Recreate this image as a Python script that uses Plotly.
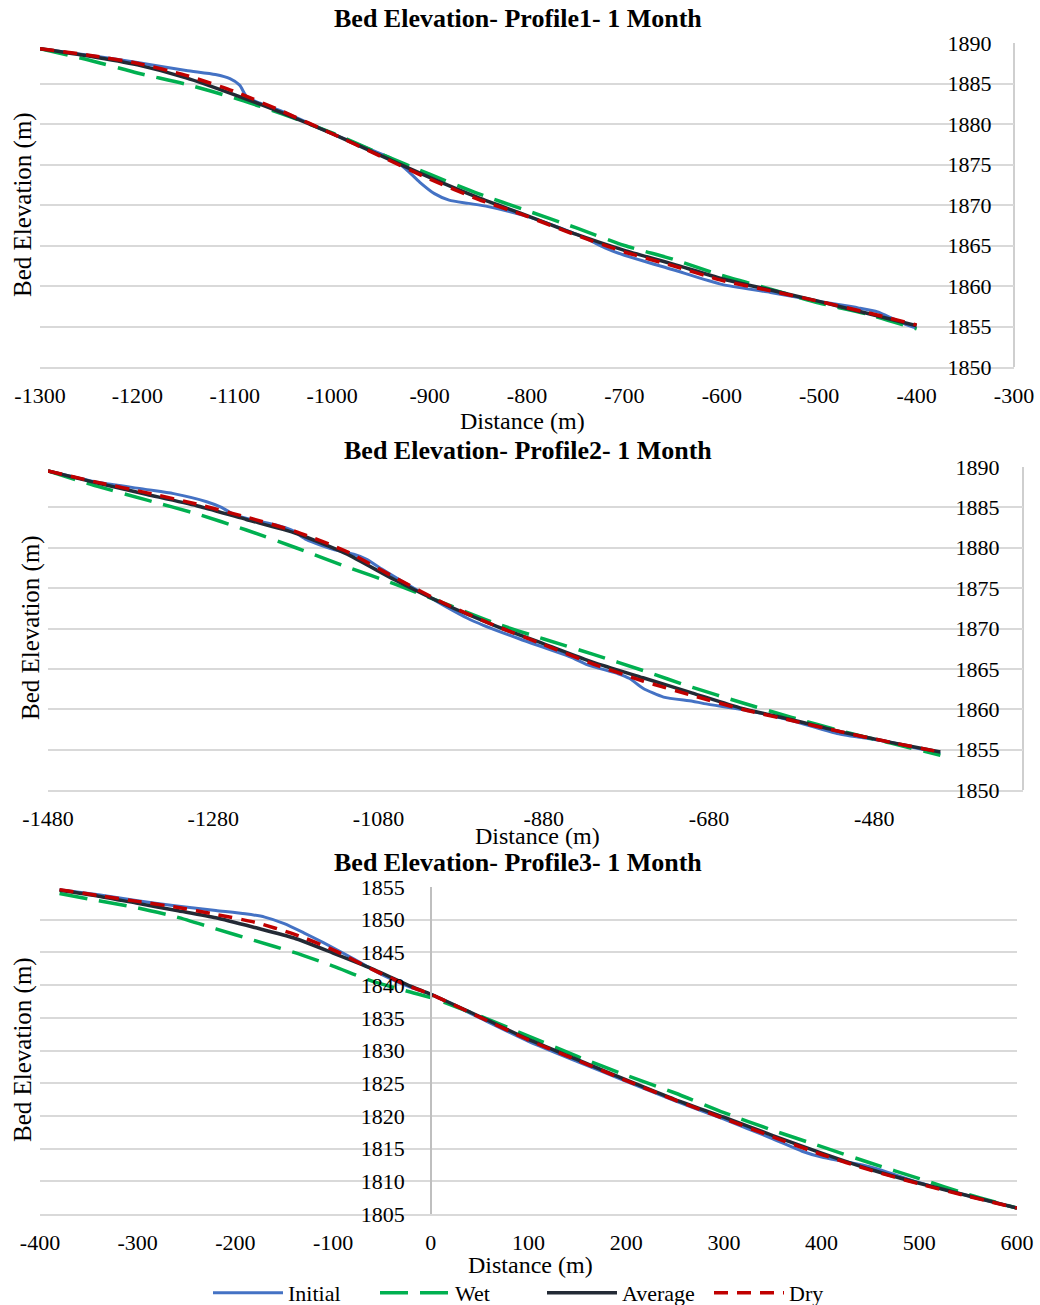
import plotly.graph_objects as go

# ---------------- DATA ----------------
series_names = ["Initial", "Wet", "Average", "Dry"]
titles = ["Bed Elevation- Profile1- 1 Month",
          "Bed Elevation- Profile2- 1 Month",
          "Bed Elevation- Profile3- 1 Month"]
x_title = "Distance (m)"
y_title = "Bed Elevation (m)"

# Profile 1
p1_x = [-1300, -1250, -1200, -1150, -1100, -1050, -1000, -950, -900, -850,
        -800, -750, -700, -650, -600, -550, -500, -450, -400]
p1_initial_x = [-1300, -1250, -1200, -1150, -1120, -1105, -1095, -1088, -1075, -1050,
                -1000, -960, -940, -925, -910, -895, -880, -860, -840, -800,
                -760, -740, -720, -700, -650, -600, -550, -500, -460, -440,
                -425, -410, -400]
p1_initial = [1889.3, 1888.5, 1887.6, 1886.6, 1886.1, 1885.6, 1884.8, 1883.4, 1882.6, 1881.5,
              1878.8, 1876.8, 1875.8, 1874.5, 1872.8, 1871.4, 1870.6, 1870.2, 1869.8, 1868.6,
              1866.9, 1865.9, 1864.7, 1863.8, 1862.0, 1860.2, 1859.2, 1858.1, 1857.3, 1856.8,
              1856.0, 1855.2, 1854.8]
p1_wet = [1889.3, 1887.9, 1886.3, 1884.9, 1883.2, 1881.2, 1878.9, 1876.3, 1873.8, 1871.4,
          1869.3, 1867.2, 1865.0, 1863.3, 1861.3, 1859.6, 1857.9, 1856.5, 1854.7]
p1_average = [1889.3, 1888.4, 1887.3, 1885.7, 1883.6, 1881.3, 1878.8, 1876.1, 1873.4, 1870.9,
              1868.7, 1866.4, 1864.4, 1862.7, 1860.9, 1859.5, 1858.1, 1856.6, 1855.1]
p1_dry = [1889.3, 1888.5, 1887.5, 1886.0, 1884.0, 1881.5, 1878.8, 1876.0, 1873.2, 1870.7,
          1868.6, 1866.3, 1864.2, 1862.5, 1860.7, 1859.4, 1858.1, 1856.7, 1855.2]

# Profile 2
p2_x = [-1480, -1420, -1360, -1300, -1240, -1180, -1120, -1060, -1000, -940,
        -880, -820, -760, -700, -640, -580, -520, -460, -400]
p2_initial_x = [-1480, -1420, -1360, -1328, -1288, -1270, -1253, -1230, -1203, -1185,
                -1167, -1135, -1110, -1095, -1075, -1054, -1034, -1000, -973, -953,
                -909, -848, -827, -790, -776, -760, -735, -700, -686, -626,
                -580, -525, -465, -400]
p2_initial = [1889.5, 1888.1, 1887.2, 1886.7, 1885.7, 1885.0, 1884.0, 1883.4, 1882.8, 1882.2,
              1881.0, 1879.8, 1879.2, 1878.6, 1877.3, 1876.0, 1874.8, 1872.8, 1871.3, 1870.4,
              1868.7, 1866.5, 1865.5, 1864.4, 1863.8, 1862.6, 1861.5, 1861.0, 1860.7, 1859.7,
              1858.6, 1857.0, 1856.0, 1854.5]
p2_wet = [1889.5, 1887.6, 1885.9, 1884.2, 1882.2, 1880.0, 1877.7, 1875.5, 1873.1, 1870.7,
          1868.7, 1866.8, 1864.8, 1862.7, 1860.8, 1859.0, 1857.3, 1855.8, 1854.3]
p2_average = [1889.5, 1888.0, 1886.6, 1885.2, 1883.5, 1881.8, 1879.3, 1876.0, 1873.0, 1870.4,
              1868.1, 1865.8, 1863.9, 1862.0, 1860.1, 1858.7, 1857.2, 1855.9, 1854.7]
p2_dry = [1889.5, 1888.1, 1886.8, 1885.4, 1883.8, 1882.0, 1879.6, 1876.3, 1873.1, 1870.4,
          1868.0, 1865.6, 1863.5, 1861.7, 1860.0, 1858.6, 1857.2, 1855.9, 1854.7]

# Profile 3
p3_x = [-380, -340, -300, -260, -220, -180, -140, -100, -60, -20, 0, 50,
        100, 150, 200, 250, 300, 350, 400, 450, 500, 550, 600]
p3_initial_x = [-380, -340, -300, -260, -220, -190, -170, -150, -130, -110, -80, -50,
                -20, 0, 50, 100, 150, 200, 250, 300, 350, 380, 400, 420, 450, 500, 550, 600]
p3_initial = [1854.6, 1853.8, 1852.9, 1852.1, 1851.4, 1850.9, 1850.4, 1849.4, 1848.0, 1846.5,
              1844.1, 1841.6, 1839.6, 1838.6, 1835.0, 1831.4, 1828.3, 1825.3, 1822.3, 1819.5,
              1816.5, 1814.6, 1813.7, 1813.1, 1812.2, 1809.8, 1807.8, 1805.9]
p3_wet = [1854.0, 1852.9, 1851.8, 1850.4, 1848.6, 1846.8, 1845.0, 1842.9, 1840.6, 1838.9, 1838.1,
          1835.3, 1832.2, 1829.1, 1826.2, 1823.5, 1820.5, 1817.8, 1815.3, 1812.8, 1810.4, 1808.0, 1805.9]
p3_average = [1854.5, 1853.6, 1852.5, 1851.4, 1850.3, 1848.8, 1847.2, 1844.9, 1842.5, 1839.8, 1838.6,
              1835.2, 1831.7, 1828.6, 1825.5, 1822.5, 1819.8, 1817.0, 1814.3, 1811.8, 1809.7, 1807.8, 1805.9]
p3_dry = [1854.6, 1853.7, 1852.8, 1851.9, 1850.8, 1849.6, 1847.8, 1845.4, 1842.4, 1839.7, 1838.6,
          1835.1, 1831.6, 1828.5, 1825.4, 1822.4, 1819.6, 1816.8, 1814.1, 1811.7, 1809.6, 1807.7, 1805.9]

# axis ranges / tick values and labels
p1_xrange, p1_yrange = [-1300, -300], [1850, 1890]
p2_xrange, p2_yrange = [-1480, -300], [1850, 1890]
p3_xrange, p3_yrange = [-400, 600], [1805, 1855]
p1_xticks = [-1300, -1200, -1100, -1000, -900, -800, -700, -600, -500, -400, -300]
p2_xticks = [-1480, -1280, -1080, -880, -680, -480]
p3_xticks = [-400, -300, -200, -100, 0, 100, 200, 300, 400, 500, 600]
p1_xticklabels = ["-1300", "-1200", "-1100", "-1000", "-900", "-800", "-700", "-600", "-500", "-400", "-300"]
p2_xticklabels = ["-1480", "-1280", "-1080", "-880", "-680", "-480"]
p3_xticklabels = ["-400", "-300", "-200", "-100", "0", "100", "200", "300", "400", "500", "600"]

# ---------------- STYLE / LAYOUT ----------------
W, H = 1040, 1305
FONT = "Liberation Serif, Times New Roman, serif"
colors = {"Initial": "#4472C4", "Wet": "#00B050", "Average": "#232A35", "Dry": "#C00000"}
widths = {"Initial": 3, "Wet": 3.5, "Average": 3.5, "Dry": 3.5}
dashes = {"Initial": "solid", "Wet": "28px,12px", "Average": "solid", "Dry": "14px,9px"}
GRID = "#D9D9D9"
AXLINE = "#BFBFBF"


def px_x(p):
    return p / W


def px_y(p):
    return 1 - p / H


panels = [
    dict(x=p1_x, ix=p1_initial_x, ini=p1_initial, wet=p1_wet, avg=p1_average, dry=p1_dry,
         xr=p1_xrange, yr=p1_yrange, dtick_y=5, tv=p1_xticks, tt=p1_xticklabels,
         xd=(40, 1014), yd=(43, 367), ylab_right=998, free_line=False,
         title_pos=(518, 18), xt_pos=(522, 421), yt_pos=(23, 205)),
    dict(x=p2_x, ix=p2_initial_x, ini=p2_initial, wet=p2_wet, avg=p2_average, dry=p2_dry,
         xr=p2_xrange, yr=p2_yrange, dtick_y=5, tv=p2_xticks, tt=p2_xticklabels,
         xd=(48, 1023), yd=(467, 790), ylab_right=1006, free_line=False,
         title_pos=(528, 450), xt_pos=(537, 836), yt_pos=(31, 628)),
    dict(x=p3_x, ix=p3_initial_x, ini=p3_initial, wet=p3_wet, avg=p3_average, dry=p3_dry,
         xr=p3_xrange, yr=p3_yrange, dtick_y=5, tv=p3_xticks, tt=p3_xticklabels,
         xd=(40, 1017), yd=(887, 1214), ylab_right=None, free_line=True,
         title_pos=(518, 862), xt_pos=(530, 1265), yt_pos=(23, 1050)),
]

fig = go.Figure()
layout = dict(template="none", width=W, height=H,
              margin=dict(l=0, r=0, t=0, b=0, pad=0, autoexpand=False),
              paper_bgcolor="white", plot_bgcolor="white",
              font=dict(family=FONT, size=22, color="#000000"))
annotations = []
shapes = []

for i, pn in enumerate(panels):
    k = "" if i == 0 else str(i + 1)
    xa, ya = "x" + k, "y" + k
    series = [("Initial", pn["ix"], pn["ini"]), ("Wet", pn["x"], pn["wet"]),
              ("Average", pn["x"], pn["avg"]), ("Dry", pn["x"], pn["dry"])]
    for name, xs, ys in series:
        fig.add_trace(go.Scatter(
            x=xs, y=ys, mode="lines", name=name, xaxis=xa, yaxis=ya,
            showlegend=(i == 2),
            line=dict(color=colors[name], width=widths[name], dash=dashes[name],
                      shape="spline", smoothing=0.6)))

    x0, x1 = pn["xd"]
    ytop, ybot = pn["yd"]
    layout["xaxis" + k] = dict(
        domain=[px_x(x0), px_x(x1)], anchor=ya, range=pn["xr"],
        tickmode="array", tickvals=pn["tv"], ticktext=pn["tt"],
        showgrid=False, zeroline=False, automargin=False,
        showline=True, linecolor=GRID, linewidth=1.5,
        ticks="outside", ticklen=8, tickcolor="rgba(0,0,0,0)",
        tickfont=dict(size=22), fixedrange=True)
    if pn["free_line"]:
        frac = (0 - pn["xr"][0]) / (pn["xr"][1] - pn["xr"][0])
        pos = px_x(x0 + (x1 - x0) * frac)
        yax = dict(anchor="free", position=pos, side="left", showline=True,
                   linecolor=AXLINE, linewidth=1.5, ticks="outside", ticklen=21,
                   tickcolor="rgba(0,0,0,0)")
    else:
        yax = dict(anchor="free", position=px_x(pn["ylab_right"]), side="left",
                   showline=False, ticks="outside", ticklen=2,
                   tickcolor="rgba(0,0,0,0)")
        shapes.append(dict(type="line", xref=xa + " domain", yref=ya + " domain",
                           x0=1, x1=1, y0=0, y1=1,
                           line=dict(color=AXLINE, width=1.5), layer="below"))
    yax.update(domain=[px_y(ybot), px_y(ytop)], range=pn["yr"], dtick=pn["dtick_y"],
               tick0=pn["yr"][0], showgrid=True, gridcolor=GRID, gridwidth=1.5,
               zeroline=False, automargin=False,
               tickfont=dict(size=22), fixedrange=True)
    layout["yaxis" + k] = yax

    tx, ty = pn["title_pos"]
    annotations.append(dict(text="<b>" + titles[i] + "</b>", x=px_x(tx), y=px_y(ty),
                            xref="paper", yref="paper", showarrow=False,
                            xanchor="center", yanchor="middle",
                            font=dict(size=26, family=FONT, color="#000000")))
    xx, xy = pn["xt_pos"]
    annotations.append(dict(text=x_title, x=px_x(xx), y=px_y(xy), xref="paper", yref="paper",
                            showarrow=False, xanchor="center", yanchor="middle",
                            font=dict(size=24, family=FONT, color="#000000")))
    yx, yy = pn["yt_pos"]
    annotations.append(dict(text=y_title, x=px_x(yx), y=px_y(yy), xref="paper", yref="paper",
                            showarrow=False, xanchor="center", yanchor="middle", textangle=-90,
                            font=dict(size=25, family=FONT, color="#000000")))

layout["annotations"] = annotations
layout["shapes"] = shapes
layout["legend"] = dict(orientation="h", x=px_x(542), xanchor="center", y=px_y(1293),
                        yanchor="middle", font=dict(size=22, family=FONT, color="#000000"),
                        entrywidth=82, bgcolor="rgba(0,0,0,0)", itemwidth=70)
fig.update_layout(**layout)
fig.write_html("out.html", config={"displayModeBar": False},
               post_script="document.body.style.margin='0px';document.body.style.padding='0px';")
